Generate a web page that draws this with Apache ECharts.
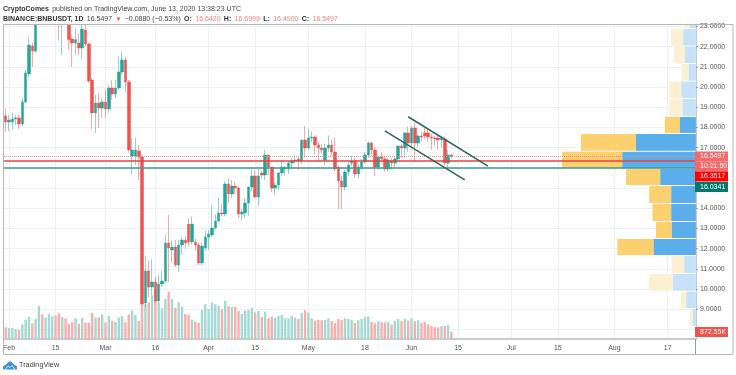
<!DOCTYPE html>
<html>
<head>
<meta charset="utf-8">
<style>html,body{margin:0;padding:0;background:#fff}#main{width:736px;height:375px}</style>
<script src="https://cdn.jsdelivr.net/npm/echarts@6/dist/echarts.min.js"></script>
</head>
<body>
<div id="main"></div>
<script>
// daily candles, Jan 31 .. Jun 13
const opens = [18.57,18.27,18.27,18.42,18.47,18.17,19.26,20.65,22.03,21.78,23.6,24.4,23.9,25.0,26.4,27.2,26.6,24.2,25.2,24.0,22.38,22.18,22.18,21.93,22.82,22.13,20.35,18.72,19.21,18.96,19.26,18.91,19.95,19.66,19.95,20.75,21.34,20.25,16.59,16.59,16.84,16.54,9.31,10.9,10.10,10.35,9.41,10.25,10.40,12.28,11.93,12.08,11.19,12.18,12.43,13.22,12.33,12.33,12.18,11.29,12.03,12.58,12.68,13.02,13.37,13.77,13.72,15.20,14.71,15.10,15.0,13.72,13.77,14.26,15.05,15.60,14.56,15.75,15.65,16.64,16.04,15.0,15.15,15.75,15.95,15.94,16.24,16.34,16.44,16.34,17.38,16.98,17.48,17.53,17.13,16.98,16.39,16.98,17.13,16.78,16.04,15.35,15.05,15.80,16.24,16.34,15.70,16.04,16.29,16.64,17.23,16.89,16.04,16.54,16.44,15.94,16.34,16.24,16.44,17.08,16.98,17.73,17.23,17.97,17.23,17.58,17.73,17.73,17.53,17.48,17.48,17.38,17.43,16.24,16.642];
const closes = [18.27,18.37,18.42,18.47,18.17,19.26,20.70,22.08,21.78,23.60,24.4,23.9,25.0,26.4,27.2,26.6,25.4,25.2,24.4,22.35,22.18,22.35,21.93,22.87,22.13,20.30,18.72,19.21,18.96,19.26,18.91,19.95,19.66,19.95,20.75,21.34,20.25,16.89,16.89,16.89,16.54,9.26,10.90,10.1,10.35,9.41,10.25,10.40,12.28,12.03,12.08,11.19,12.18,12.43,12.28,12.33,13.22,12.18,11.29,12.13,12.58,12.73,13.02,13.37,13.77,13.72,15.20,14.71,15.10,15.0,13.72,13.82,14.26,15.05,15.60,14.56,15.60,15.65,16.64,16.04,15.0,15.15,15.75,16.04,16.0,16.24,16.34,16.39,16.34,17.38,16.98,17.48,17.53,17.13,16.98,16.89,16.98,17.13,16.78,15.94,15.35,15.05,15.80,16.14,16.34,15.70,16.04,16.29,16.64,17.23,16.89,16.04,16.54,16.44,15.94,16.39,16.24,16.44,17.08,16.98,17.73,17.23,17.97,17.23,17.58,17.53,17.58,17.53,17.48,17.43,17.38,17.48,16.24,16.64,16.5497];
const lows = [17.78,17.83,17.88,18.12,17.92,18.07,19.21,20.50,20.99,21.70,23.4,23.5,23.6,24.8,26.0,25.8,22.28,21.59,23.8,21.84,20.99,21.6,21.59,21.44,22.03,20.20,17.92,17.73,17.97,18.47,18.47,18.72,19.36,19.46,19.85,20.60,19.76,16.74,15.65,16.14,15.40,9.2,9.1,9.6,9.7,9.31,9.26,10.1,10.3,10.35,11.3,11.09,10.85,11.7,12.0,12.1,12.2,11.9,11.19,11.19,11.9,11.93,12.6,12.95,13.3,13.6,13.6,14.26,14.5,14.7,13.52,13.4,13.5,13.62,14.85,14.5,14.11,15.5,15.4,15.65,14.81,14.65,14.9,15.6,15.6,15.7,16.0,16.2,15.9,16.2,16.49,16.9,17.3,16.64,16.29,16.7,16.14,16.8,16.6,15.8,13.97,13.97,14.9,15.6,16.1,15.5,15.5,15.9,16.2,16.5,16.6,15.6,15.9,16.2,15.8,15.8,15.9,16.0,16.3,16.5,16.5,16.8,17.1,16.3,17.0,17.3,17.4,17.3,16.9,17.1,16.9,17.0,16.1,15.95,16.49];
const highs = [18.96,18.62,18.72,18.62,18.62,19.46,20.85,22.48,22.18,24.2,24.8,25.0,25.4,27.0,27.6,27.8,27.0,25.8,25.6,24.4,22.6,22.92,22.68,23.12,23.12,22.2,20.45,19.61,19.71,19.46,19.86,20.10,20.35,20.35,21.49,21.74,21.49,20.35,17.48,17.48,17.13,16.64,11.64,11.4,11.45,10.6,10.7,10.9,12.68,13.67,12.4,12.43,12.43,12.6,12.6,13.5,13.6,12.5,12.3,12.3,12.9,12.9,14.2,13.7,14.5,14.2,15.35,15.5,15.4,15.3,15.1,14.0,14.5,15.1,15.9,15.9,15.94,15.85,16.9,16.64,16.04,15.3,15.8,16.4,16.1,16.3,16.5,16.6,16.55,17.4,18.08,17.9,17.8,17.6,17.3,17.15,17.2,17.6,17.4,17.53,16.1,15.6,15.9,16.3,16.6,16.5,16.2,16.45,16.8,17.3,17.3,17.0,16.7,16.8,16.6,16.5,16.5,16.6,17.1,17.2,17.8,18.05,18.05,18.24,17.7,17.8,18.0,17.9,17.7,17.6,17.6,17.6,17.55,16.9,16.6999];
// volume in millions
const volumes = [1.35,1.28,1.28,1.16,1.04,1.70,2.24,2.55,1.82,2.32,3.83,2.86,2.48,2.90,2.63,2.71,2.98,2.55,2.40,1.78,1.94,2.40,1.78,2.44,1.90,1.90,3.02,2.48,2.48,2.86,1.94,2.67,2.09,1.97,2.48,2.63,1.94,2.86,3.29,2.79,2.09,4.02,4.02,4.22,5.07,5.69,4.14,3.56,4.64,5.50,4.64,3.64,4.26,3.75,2.90,2.79,2.24,2.01,1.90,3.37,4.02,3.48,4.26,4.02,3.87,3.44,4.41,3.79,3.68,3.72,3.25,2.90,3.29,3.37,3.60,3.06,3.25,2.55,3.17,2.40,2.59,2.48,2.67,2.79,2.40,2.40,2.67,2.48,2.32,3.02,3.33,3.06,2.40,2.13,2.21,2.17,2.21,2.40,2.09,1.86,2.32,2.21,2.40,2.32,2.24,1.86,2.17,2.32,2.55,2.63,1.97,1.82,2.05,1.94,1.94,1.94,1.66,2.13,2.32,2.09,2.32,2.13,2.40,2.05,2.17,1.86,2.01,1.70,1.51,1.39,1.35,1.51,1.51,1.63,0.87];

const firstDay = Date.UTC(2020, 0, 31);
const dayCount = 208;
const categories = [];
for (let d = 0; d < dayCount; d++) {
  categories.push(new Date(firstDay + d * 86400000).toISOString().slice(0, 10));
}
const dateLabels = {
  '2020-02-01': 'Feb', '2020-02-15': '15', '2020-03-01': 'Mar', '2020-03-16': '16',
  '2020-04-01': 'Apr', '2020-04-15': '15', '2020-05-01': 'May', '2020-05-18': '18',
  '2020-06-01': 'Jun', '2020-06-15': '15', '2020-07-01': 'Jul', '2020-07-15': '15',
  '2020-08-01': 'Aug', '2020-08-17': '17'
};
const priceTicks = [23,22,21,20,19,18,17,16,15,14,13,12,11,10,9,8];
const priceLabels = [23,22,21,20,19,18,17,14,13,12,11,10,9];

// horizontal levels and the two channel lines
const lastPrice = 16.5497;
const redLevel = 16.3517;
const greenLevel = 16.0341;
const upperChannel = [['2020-05-31', 18.53], ['2020-06-24', 16.09]];
const lowerChannel = [['2020-05-24', 17.83], ['2020-06-17', 15.40]];

// volume profile rows, top to bottom
const profileEdges = [23.74,22.87,22.0,21.14,20.27,19.41,18.52,17.68,16.80,15.94,15.10,14.21,13.32,12.48,11.64,10.75,9.87,9.01,8.12];
const profileBlue = [6,12.7,11,7.3,14.7,13.3,16,60,73.7,35.7,24.7,24.7,24,42.3,11.7,23,9.7,3.3];
const profileYellow = [5.7,12.3,10.7,7,12.7,13.3,15,55,60.3,34.3,22,18.7,16,36.3,12.7,24,5.3,2.7];
const profileFaded = [1,1,1,1,1,1,0,0,0,0,0,0,0,0,1,1,1,1];

const UP = '#26a69a';
const DOWN = '#ef5350';
const font = '"Liberation Sans", Arial, sans-serif';

const candleData = opens.map((o, i) => [o, closes[i], lows[i], highs[i]]);
const volumeData = volumes.map((v, i) => ({
  value: v,
  itemStyle: { color: closes[i] >= opens[i] ? '#a3d9d2' : '#f9aeac' }
}));
const profileData = profileBlue.map((b, i) => [b, profileYellow[i], profileEdges[i], profileEdges[i + 1], profileFaded[i]]);

function renderProfile(params, api) {
  const blue = api.value(0), yellow = api.value(1);
  const top = api.coord([0, api.value(2)]);
  const bottom = api.coord([0, api.value(3)]);
  const x1 = api.coord([blue, api.value(2)])[0];
  const x2 = api.coord([blue + yellow, api.value(2)])[0];
  const faded = api.value(4);
  const h = bottom[1] - top[1] - 1;
  return {
    type: 'group',
    children: [
      { type: 'rect', shape: { x: x2, y: top[1], width: x1 - x2, height: h }, style: { fill: faded ? '#fdf0d2' : '#fcd06e' } },
      { type: 'rect', shape: { x: x1, y: top[1], width: top[0] - x1, height: h }, style: { fill: faded ? '#c5e2f8' : '#5aaeea' } }
    ]
  };
}

function tag(y, h, text, fill) {
  return [
    { type: 'rect', shape: { x: 695, y: y, width: 33, height: h }, style: { fill: fill }, z: 20 },
    { type: 'text', x: 700, y: y + h / 2, style: { text: text, fill: '#fff', font: '7px ' + font, verticalAlign: 'middle' }, z: 21 }
  ];
}

const headerStyles = {
  b: { fontWeight: 'bold', fontSize: 7, fontFamily: font, fill: '#333' },
  v: { fontSize: 7, fontFamily: font, fill: '#f0807e' },
  n: { fontSize: 7, fontFamily: font, fill: '#444' },
  t: { fontSize: 6, fontFamily: font, fill: '#ef5350' }
};

const myChart = echarts.init(document.getElementById('main'));
myChart.setOption({
  animation: false,
  backgroundColor: '#fff',
  textStyle: { fontFamily: font },
  grid: { left: 3.3, right: 40.1, top: 24, bottom: 36 },
  xAxis: [
    {
      type: 'category',
      data: categories,
      axisLine: { lineStyle: { color: '#b8bcbf', width: 1.5 } },
      axisTick: { alignWithLabel: true, length: 2, lineStyle: { color: '#999' }, interval: (i, v) => v in dateLabels },
      axisLabel: { interval: (i, v) => v in dateLabels, formatter: (v) => dateLabels[v], fontSize: 7, color: '#555', margin: 6, hideOverlap: false },
      splitLine: { show: true, alignWithLabel: true, interval: (i, v) => v in dateLabels, lineStyle: { color: '#edf1f3' } }
    },
    { type: 'value', show: false, inverse: true, min: 0, max: 692.6, splitLine: { show: false } }
  ],
  yAxis: [
    {
      type: 'value',
      position: 'right',
      min: 7.53,
      max: 23.12,
      axisLine: { show: true, lineStyle: { color: '#c4c8cb' } },
      axisTick: { show: true, length: 2, lineStyle: { color: '#999' }, customValues: priceTicks },
      axisLabel: { customValues: priceLabels, formatter: (v) => v.toFixed(4), fontSize: 7, color: '#555', margin: 4 },
      splitLine: { show: true, lineStyle: { color: '#edf1f3' } }
    },
    { type: 'value', show: false, min: 0, max: 36.5, splitLine: { show: false } }
  ],
  series: [
    { type: 'bar', xAxisIndex: 0, yAxisIndex: 1, data: volumeData, barWidth: 2.4, z: 1 },
    {
      type: 'custom',
      xAxisIndex: 1,
      yAxisIndex: 0,
      clip: true,
      renderItem: renderProfile,
      data: profileData,
      encode: { x: 0, y: 2 },
      z: 2
    },
    {
      type: 'candlestick',
      xAxisIndex: 0,
      yAxisIndex: 0,
      data: candleData,
      barWidth: 3,
      clip: true,
      z: 3,
      itemStyle: { color: UP, color0: DOWN, borderColor: UP, borderColor0: DOWN, borderWidth: 0.5 },
      markLine: {
        silent: true,
        symbol: 'none',
        label: { show: false },
        animation: false,
        z: 6,
        data: [
          { yAxis: lastPrice, lineStyle: { color: '#f08a88', width: 1, type: 'dotted' } },
          { yAxis: redLevel, lineStyle: { color: '#e9413f', width: 1.5, type: 'solid' } },
          { yAxis: greenLevel, lineStyle: { color: '#3c9a8e', width: 1.5, type: 'solid' } },
          [
            { coord: upperChannel[0], lineStyle: { color: '#2c6660', width: 1.5, type: 'solid' } },
            { coord: upperChannel[1] }
          ],
          [
            { coord: lowerChannel[0], lineStyle: { color: '#2c6660', width: 1.5, type: 'solid' } },
            { coord: lowerChannel[1] }
          ]
        ]
      }
    }
  ],
  graphic: [
    // candlestick only drops whole boxes outside the grid, so mask what pokes out on top
    { type: 'rect', shape: { x: 0, y: 0, width: 695, height: 24 }, style: { fill: '#fff' }, z: 12 },
    // frame round the chart
    { type: 'rect', shape: { x: 3.5, y: 24.5, width: 729.5, height: 330 }, style: { fill: 'none', stroke: '#b4b7ba', lineWidth: 1 }, z: 15 },
    { type: 'line', shape: { x1: 695.5, y1: 339, x2: 695.5, y2: 354 }, style: { stroke: '#9a9da0', lineWidth: 1 }, z: 15 },
    {
      type: 'text', x: 3, y: 3, z: 16,
      style: {
        rich: headerStyles,
        text: '{b|CryptoComes} {n|published on TradingView.com, June 13, 2020 13:38:23 UTC}'
      }
    },
    {
      type: 'text', x: 3, y: 13, z: 16,
      style: {
        rich: headerStyles,
        text: '{b|BINANCE:BNBUSDT, 1D} {n|16.5497} {t|▼} {n|−0.0880 (−0.53%)} {b|O:} {v|16.6420} {b|H:} {v|16.6999} {b|L:} {v|16.4900} {b|C:} {v|16.5497}'
      }
    },
    ...tag(151.5, 10, '16.5497', '#f4686a'),
    ...tag(161.5, 10, '10:21:50', '#f4686a'),
    ...tag(171.5, 10, '16.3517', '#ff0000'),
    ...tag(182, 10, '16.0341', '#00796b'),
    ...tag(327, 10, '872.55K', '#ef5350'),
    // TradingView mark
    {
      type: 'polygon', z: 5,
      shape: { points: [[3, 369.5], [3, 366.5], [6, 364.5], [9, 361.5], [11, 361.5], [14, 364.5], [17, 366.5], [17, 369.5]] },
      style: { fill: '#3b8fdc' }
    },
    { type: 'polyline', z: 6, shape: { points: [[5, 369.5], [8, 366], [10, 367.5], [12, 365.5], [15, 369.5]] }, style: { fill: 'none', stroke: '#fff', lineWidth: 0.8 } },
    { type: 'text', x: 19, y: 361, style: { text: 'TradingView', fill: '#444', font: '7.3px ' + font } }
  ]
});
</script>
</body>
</html>
